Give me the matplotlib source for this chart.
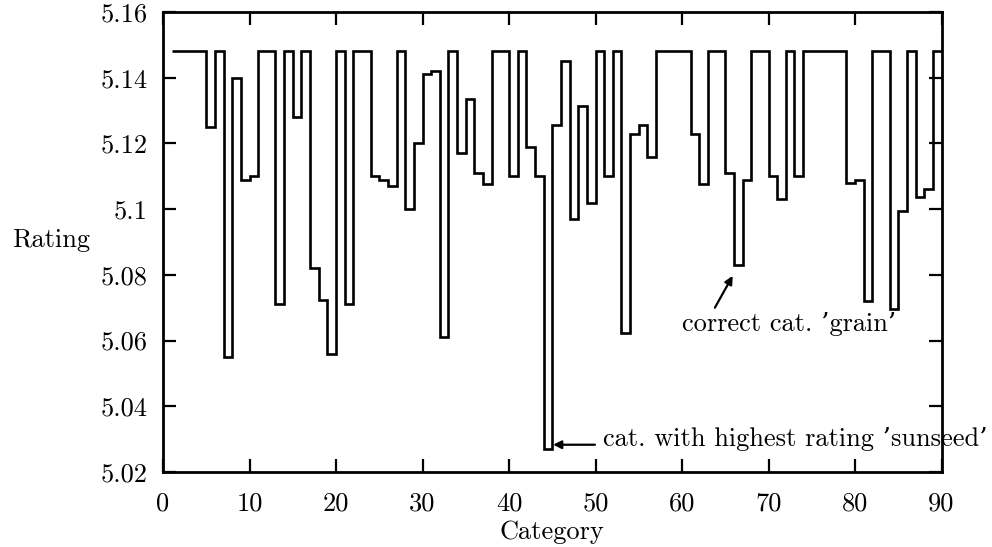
import numpy as np
import matplotlib
matplotlib.use("Agg")
import matplotlib.pyplot as plt
from matplotlib.ticker import FixedLocator, FixedFormatter

plt.rcParams['font.family'] = ['cmr10', 'DejaVu Serif']
plt.rcParams['axes.formatter.use_mathtext'] = True

# category edges (steps from 1 to 90)
category_edges = np.arange(1, 91)
ratings = [
    5.148, 5.148, 5.148, 5.148, 5.125, 5.148, 5.055, 5.140, 5.109, 5.110,
    5.148, 5.148, 5.071, 5.148, 5.128, 5.148, 5.082, 5.0725, 5.056, 5.148,
    5.071, 5.148, 5.148, 5.110, 5.109, 5.107, 5.148, 5.100, 5.120, 5.141,
    5.142, 5.061, 5.148, 5.117, 5.1335, 5.111, 5.1076, 5.148, 5.148, 5.110,
    5.148, 5.119, 5.110, 5.027, 5.1256, 5.145, 5.097, 5.1315, 5.102, 5.148,
    5.110, 5.148, 5.0624, 5.1228, 5.1256, 5.116, 5.148, 5.148, 5.148, 5.148,
    5.1228, 5.1076, 5.148, 5.148, 5.111, 5.083, 5.109, 5.148, 5.148, 5.110,
    5.103, 5.148, 5.110, 5.148, 5.148, 5.148, 5.148, 5.148, 5.108, 5.109,
    5.072, 5.148, 5.148, 5.0695, 5.0994, 5.148, 5.1036, 5.106, 5.148,
]

x_ticks = [0, 10, 20, 30, 40, 50, 60, 70, 80, 90]
x_tick_labels = ['0', '10', '20', '30', '40', '50', '60', '70', '80', '90']
y_ticks = [5.02, 5.04, 5.06, 5.08, 5.10, 5.12, 5.14, 5.16]
y_tick_labels = ['5.02', '5.04', '5.06', '5.08', '5.1', '5.12', '5.14', '5.16']

FS = 19

fig = plt.figure(figsize=(9.92, 5.47), dpi=100)
ax = fig.add_axes([163/992, 1-472/547, (941.5-163)/992, (472-12)/547])

ax.stairs(ratings, category_edges, baseline=None, color='black', linewidth=1.9)

ax.set_xlim(0, 90)
ax.set_ylim(5.02, 5.16)
ax.xaxis.set_major_locator(FixedLocator(x_ticks))
ax.xaxis.set_major_formatter(FixedFormatter(x_tick_labels))
ax.yaxis.set_major_locator(FixedLocator(y_ticks))
ax.yaxis.set_major_formatter(FixedFormatter(y_tick_labels))
ax.tick_params(axis='both', direction='in', length=9.5, width=1.6,
               top=True, right=True, labelsize=FS)
ax.tick_params(axis='y', pad=11)
ax.tick_params(axis='x', pad=14)
for s in ax.spines.values():
    s.set_linewidth(2.0)

ax.set_xlabel('Category', fontsize=FS, labelpad=4)
fig.text(51/992, 1-240/547, 'Rating', ha='center', va='center', fontsize=FS)

arrow = dict(arrowstyle='-|>', color='black', lw=1.6, mutation_scale=12,
             shrinkA=0, shrinkB=0)
ax.annotate('', xy=(65.86, 5.0797), xytext=(63.8, 5.070), arrowprops=arrow)
ax.text(60.0, 5.065, 'correct cat. \u2019grain\u2019', fontsize=FS,
        ha='left', va='center')
ax.annotate('', xy=(45.1, 5.0283), xytext=(49.94, 5.0283), arrowprops=arrow)
ax.text(50.9, 5.0299, 'cat. with highest rating \u2019sunseed\u2019', fontsize=FS,
        ha='left', va='center')

fig.savefig('out.png', dpi=100)
